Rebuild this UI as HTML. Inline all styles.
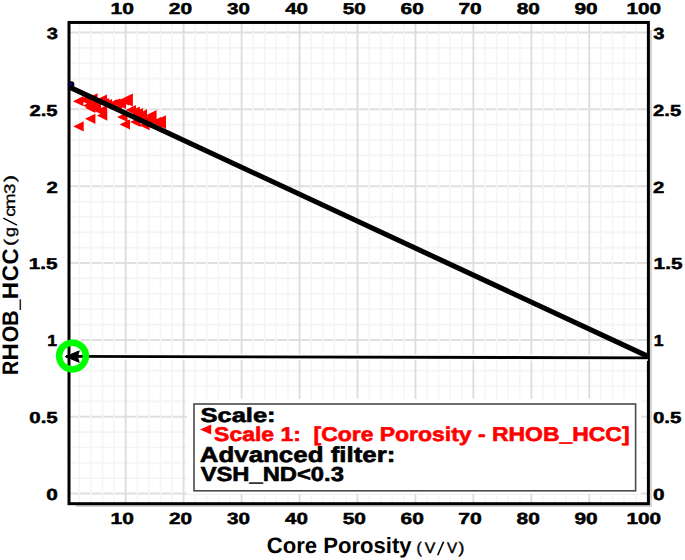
<!DOCTYPE html>
<html><head><meta charset="utf-8"><style>
html,body{margin:0;padding:0;background:#fff;}
svg{display:block;font-family:"Liberation Sans",sans-serif;text-rendering:geometricPrecision;}
</style></head><body>
<svg width="685" height="560" viewBox="0 0 685 560">
<rect width="685" height="560" fill="#fff"/>
<rect x="650" y="30" width="2" height="477" fill="#d4d4d4"/>
<rect x="76" y="505" width="576" height="2" fill="#d4d4d4"/>
<line x1="68" y1="493.60" x2="650" y2="493.60" stroke="#e0e0e0" stroke-width="2"/>
<line x1="68" y1="478.23" x2="650" y2="478.23" stroke="#f4f4f4" stroke-width="1.7"/>
<line x1="68" y1="462.86" x2="650" y2="462.86" stroke="#f4f4f4" stroke-width="1.7"/>
<line x1="68" y1="447.49" x2="650" y2="447.49" stroke="#f4f4f4" stroke-width="1.7"/>
<line x1="68" y1="432.12" x2="650" y2="432.12" stroke="#f4f4f4" stroke-width="1.7"/>
<line x1="68" y1="416.75" x2="650" y2="416.75" stroke="#e0e0e0" stroke-width="2"/>
<line x1="68" y1="401.38" x2="650" y2="401.38" stroke="#f4f4f4" stroke-width="1.7"/>
<line x1="68" y1="386.01" x2="650" y2="386.01" stroke="#f4f4f4" stroke-width="1.7"/>
<line x1="68" y1="370.64" x2="650" y2="370.64" stroke="#f4f4f4" stroke-width="1.7"/>
<line x1="68" y1="355.27" x2="650" y2="355.27" stroke="#f4f4f4" stroke-width="1.7"/>
<line x1="68" y1="339.90" x2="650" y2="339.90" stroke="#e0e0e0" stroke-width="2"/>
<line x1="68" y1="324.53" x2="650" y2="324.53" stroke="#f4f4f4" stroke-width="1.7"/>
<line x1="68" y1="309.16" x2="650" y2="309.16" stroke="#f4f4f4" stroke-width="1.7"/>
<line x1="68" y1="293.79" x2="650" y2="293.79" stroke="#f4f4f4" stroke-width="1.7"/>
<line x1="68" y1="278.42" x2="650" y2="278.42" stroke="#f4f4f4" stroke-width="1.7"/>
<line x1="68" y1="263.05" x2="650" y2="263.05" stroke="#e0e0e0" stroke-width="2"/>
<line x1="68" y1="247.68" x2="650" y2="247.68" stroke="#f4f4f4" stroke-width="1.7"/>
<line x1="68" y1="232.31" x2="650" y2="232.31" stroke="#f4f4f4" stroke-width="1.7"/>
<line x1="68" y1="216.94" x2="650" y2="216.94" stroke="#f4f4f4" stroke-width="1.7"/>
<line x1="68" y1="201.57" x2="650" y2="201.57" stroke="#f4f4f4" stroke-width="1.7"/>
<line x1="68" y1="186.20" x2="650" y2="186.20" stroke="#e0e0e0" stroke-width="2"/>
<line x1="68" y1="170.83" x2="650" y2="170.83" stroke="#f4f4f4" stroke-width="1.7"/>
<line x1="68" y1="155.46" x2="650" y2="155.46" stroke="#f4f4f4" stroke-width="1.7"/>
<line x1="68" y1="140.09" x2="650" y2="140.09" stroke="#f4f4f4" stroke-width="1.7"/>
<line x1="68" y1="124.72" x2="650" y2="124.72" stroke="#f4f4f4" stroke-width="1.7"/>
<line x1="68" y1="109.35" x2="650" y2="109.35" stroke="#e0e0e0" stroke-width="2"/>
<line x1="68" y1="93.98" x2="650" y2="93.98" stroke="#f4f4f4" stroke-width="1.7"/>
<line x1="68" y1="78.61" x2="650" y2="78.61" stroke="#f4f4f4" stroke-width="1.7"/>
<line x1="68" y1="63.24" x2="650" y2="63.24" stroke="#f4f4f4" stroke-width="1.7"/>
<line x1="68" y1="47.87" x2="650" y2="47.87" stroke="#f4f4f4" stroke-width="1.7"/>
<line x1="68" y1="32.50" x2="650" y2="32.50" stroke="#e0e0e0" stroke-width="2"/>
<line x1="79.34" y1="22" x2="79.34" y2="505" stroke="#f5f5f5" stroke-width="1.6"/>
<line x1="90.93" y1="22" x2="90.93" y2="505" stroke="#f5f5f5" stroke-width="1.6"/>
<line x1="102.52" y1="22" x2="102.52" y2="505" stroke="#f5f5f5" stroke-width="1.6"/>
<line x1="114.11" y1="22" x2="114.11" y2="505" stroke="#f5f5f5" stroke-width="1.6"/>
<line x1="125.70" y1="22" x2="125.70" y2="505" stroke="#dcdcdc" stroke-width="1.8"/>
<line x1="137.29" y1="22" x2="137.29" y2="505" stroke="#f5f5f5" stroke-width="1.6"/>
<line x1="148.88" y1="22" x2="148.88" y2="505" stroke="#f5f5f5" stroke-width="1.6"/>
<line x1="160.47" y1="22" x2="160.47" y2="505" stroke="#f5f5f5" stroke-width="1.6"/>
<line x1="172.06" y1="22" x2="172.06" y2="505" stroke="#f5f5f5" stroke-width="1.6"/>
<line x1="183.65" y1="22" x2="183.65" y2="505" stroke="#dcdcdc" stroke-width="1.8"/>
<line x1="195.24" y1="22" x2="195.24" y2="505" stroke="#f5f5f5" stroke-width="1.6"/>
<line x1="206.83" y1="22" x2="206.83" y2="505" stroke="#f5f5f5" stroke-width="1.6"/>
<line x1="218.42" y1="22" x2="218.42" y2="505" stroke="#f5f5f5" stroke-width="1.6"/>
<line x1="230.01" y1="22" x2="230.01" y2="505" stroke="#f5f5f5" stroke-width="1.6"/>
<line x1="241.60" y1="22" x2="241.60" y2="505" stroke="#dcdcdc" stroke-width="1.8"/>
<line x1="253.19" y1="22" x2="253.19" y2="505" stroke="#f5f5f5" stroke-width="1.6"/>
<line x1="264.78" y1="22" x2="264.78" y2="505" stroke="#f5f5f5" stroke-width="1.6"/>
<line x1="276.37" y1="22" x2="276.37" y2="505" stroke="#f5f5f5" stroke-width="1.6"/>
<line x1="287.96" y1="22" x2="287.96" y2="505" stroke="#f5f5f5" stroke-width="1.6"/>
<line x1="299.55" y1="22" x2="299.55" y2="505" stroke="#dcdcdc" stroke-width="1.8"/>
<line x1="311.14" y1="22" x2="311.14" y2="505" stroke="#f5f5f5" stroke-width="1.6"/>
<line x1="322.73" y1="22" x2="322.73" y2="505" stroke="#f5f5f5" stroke-width="1.6"/>
<line x1="334.32" y1="22" x2="334.32" y2="505" stroke="#f5f5f5" stroke-width="1.6"/>
<line x1="345.91" y1="22" x2="345.91" y2="505" stroke="#f5f5f5" stroke-width="1.6"/>
<line x1="357.50" y1="22" x2="357.50" y2="505" stroke="#dcdcdc" stroke-width="1.8"/>
<line x1="369.09" y1="22" x2="369.09" y2="505" stroke="#f5f5f5" stroke-width="1.6"/>
<line x1="380.68" y1="22" x2="380.68" y2="505" stroke="#f5f5f5" stroke-width="1.6"/>
<line x1="392.27" y1="22" x2="392.27" y2="505" stroke="#f5f5f5" stroke-width="1.6"/>
<line x1="403.86" y1="22" x2="403.86" y2="505" stroke="#f5f5f5" stroke-width="1.6"/>
<line x1="415.45" y1="22" x2="415.45" y2="505" stroke="#dcdcdc" stroke-width="1.8"/>
<line x1="427.04" y1="22" x2="427.04" y2="505" stroke="#f5f5f5" stroke-width="1.6"/>
<line x1="438.63" y1="22" x2="438.63" y2="505" stroke="#f5f5f5" stroke-width="1.6"/>
<line x1="450.22" y1="22" x2="450.22" y2="505" stroke="#f5f5f5" stroke-width="1.6"/>
<line x1="461.81" y1="22" x2="461.81" y2="505" stroke="#f5f5f5" stroke-width="1.6"/>
<line x1="473.40" y1="22" x2="473.40" y2="505" stroke="#dcdcdc" stroke-width="1.8"/>
<line x1="484.99" y1="22" x2="484.99" y2="505" stroke="#f5f5f5" stroke-width="1.6"/>
<line x1="496.58" y1="22" x2="496.58" y2="505" stroke="#f5f5f5" stroke-width="1.6"/>
<line x1="508.17" y1="22" x2="508.17" y2="505" stroke="#f5f5f5" stroke-width="1.6"/>
<line x1="519.76" y1="22" x2="519.76" y2="505" stroke="#f5f5f5" stroke-width="1.6"/>
<line x1="531.35" y1="22" x2="531.35" y2="505" stroke="#dcdcdc" stroke-width="1.8"/>
<line x1="542.94" y1="22" x2="542.94" y2="505" stroke="#f5f5f5" stroke-width="1.6"/>
<line x1="554.53" y1="22" x2="554.53" y2="505" stroke="#f5f5f5" stroke-width="1.6"/>
<line x1="566.12" y1="22" x2="566.12" y2="505" stroke="#f5f5f5" stroke-width="1.6"/>
<line x1="577.71" y1="22" x2="577.71" y2="505" stroke="#f5f5f5" stroke-width="1.6"/>
<line x1="589.30" y1="22" x2="589.30" y2="505" stroke="#dcdcdc" stroke-width="1.8"/>
<line x1="600.89" y1="22" x2="600.89" y2="505" stroke="#f5f5f5" stroke-width="1.6"/>
<line x1="612.48" y1="22" x2="612.48" y2="505" stroke="#f5f5f5" stroke-width="1.6"/>
<line x1="624.07" y1="22" x2="624.07" y2="505" stroke="#f5f5f5" stroke-width="1.6"/>
<line x1="635.66" y1="22" x2="635.66" y2="505" stroke="#f5f5f5" stroke-width="1.6"/>
<rect x="69.0" y="22.45" width="579.4" height="481.25" fill="none" stroke="#000" stroke-width="3"/>
<path d="M87.2,98.4L97.6,93.3L97.6,103.5ZM96.6,99.5L107.0,94.4L107.0,104.6ZM98.8,103.0L109.2,97.9L109.2,108.1ZM101.6,104.2L112.0,99.1L112.0,109.3ZM106.4,104.4L116.8,99.3L116.8,109.5ZM122.5,98.6L132.9,93.5L132.9,103.7ZM129.5,111.7L139.9,106.6L139.9,116.8ZM136.6,114.4L147.0,109.3L147.0,119.5ZM146.2,115.2L156.6,110.1L156.6,120.3ZM155.6,120.3L166.0,115.2L166.0,125.4ZM111.6,103.7L122.0,98.6L122.0,108.8ZM115.6,104.0L126.0,98.9L126.0,109.1ZM73.0,101.2L83.4,96.1L83.4,106.3ZM79.1,99.8L89.5,94.7L89.5,104.9ZM83.1,105.6L93.5,100.5L93.5,110.7ZM84.8,107.8L95.2,102.7L95.2,112.9ZM90.6,108.0L101.0,102.9L101.0,113.1ZM94.6,111.0L105.0,105.9L105.0,116.1ZM73.3,126.4L83.7,121.3L83.7,131.5ZM85.0,118.8L95.4,113.7L95.4,123.9ZM96.9,115.6L107.3,110.5L107.3,120.7ZM117.1,117.0L127.5,111.9L127.5,122.1ZM119.6,124.4L130.0,119.3L130.0,129.5ZM130.1,121.9L140.5,116.8L140.5,127.0ZM139.2,125.2L149.6,120.1L149.6,130.3ZM81.6,101.0L92.0,95.9L92.0,106.1ZM96.6,110.5L107.0,105.4L107.0,115.6ZM88.6,104.0L99.0,98.9L99.0,109.1ZM109.6,103.5L120.0,98.4L120.0,108.6ZM114.6,102.5L125.0,97.4L125.0,107.6ZM118.6,100.5L129.0,95.4L129.0,105.6ZM122.5,101.5L132.9,96.4L132.9,106.6ZM129.5,115.5L139.9,110.4L139.9,120.6ZM136.6,118.4L147.0,113.3L147.0,123.5ZM146.2,120.0L156.6,114.9L156.6,125.1ZM155.6,124.0L166.0,118.9L166.0,129.1ZM141.6,119.0L152.0,113.9L152.0,124.1ZM150.6,122.0L161.0,116.9L161.0,127.1ZM132.6,113.0L143.0,107.9L143.0,118.1ZM125.6,110.0L136.0,104.9L136.0,115.1Z" fill="#ff0000"/>
<line x1="70" y1="356.45" x2="648" y2="357.85" stroke="#fff" stroke-width="6"/>
<line x1="69" y1="86.9" x2="648" y2="356.4" stroke="#000" stroke-width="5.1"/>
<circle cx="71.1" cy="84.5" r="3.3" fill="#000"/><circle cx="71.1" cy="84.4" r="1.4" fill="#0000c8"/>
<line x1="66" y1="356.45" x2="648" y2="357.85" stroke="#000" stroke-width="2.8"/>
<path d="M65.3,356.6 L79.2,350.9 L77.4,356.7 L79.2,362.3 Z" fill="#000" stroke="#000" stroke-width="1" stroke-linejoin="round"/>
<circle cx="72.5" cy="356.1" r="13.4" fill="none" stroke="#00ff00" stroke-width="6.5"/>
<rect x="187" y="398.7" width="454.3" height="95.3" fill="#fff"/>
<rect x="194" y="404" width="441.6" height="86.8" fill="#fff" stroke="#4a4a4a" stroke-width="1.6"/>
<path d="M200,429.5L211.2,424.5L211.2,434.5Z" fill="#ff0000"/>
<text xml:space="preserve" font-size="15.885" font-weight="bold" fill="#000" stroke="#000" stroke-width="0.5" stroke-linejoin="round" transform="matrix(1.3256,0,0,1,110.559,14.466)">10</text>
<text xml:space="preserve" font-size="16.141" font-weight="bold" fill="#000" stroke="#000" stroke-width="0.5" stroke-linejoin="round" transform="matrix(1.2988,0,0,1,110.586,524.129)">10</text>
<text xml:space="preserve" font-size="15.820" font-weight="bold" fill="#000" stroke="#000" stroke-width="0.5" stroke-linejoin="round" transform="matrix(1.3240,0,0,1,168.839,14.449)">20</text>
<text xml:space="preserve" font-size="16.275" font-weight="bold" fill="#000" stroke="#000" stroke-width="0.5" stroke-linejoin="round" transform="matrix(1.2793,0,0,1,168.885,524.493)">20</text>
<text xml:space="preserve" font-size="15.726" font-weight="bold" fill="#000" stroke="#000" stroke-width="0.5" stroke-linejoin="round" transform="matrix(1.3058,0,0,1,227.067,14.386)">30</text>
<text xml:space="preserve" font-size="16.220" font-weight="bold" fill="#000" stroke="#000" stroke-width="0.5" stroke-linejoin="round" transform="matrix(1.2776,0,0,1,227.005,524.454)">30</text>
<text xml:space="preserve" font-size="15.870" font-weight="bold" fill="#000" stroke="#000" stroke-width="0.5" stroke-linejoin="round" transform="matrix(1.2950,0,0,1,285.162,14.466)">40</text>
<text xml:space="preserve" font-size="16.186" font-weight="bold" fill="#000" stroke="#000" stroke-width="0.5" stroke-linejoin="round" transform="matrix(1.2740,0,0,1,285.098,524.149)">40</text>
<text xml:space="preserve" font-size="15.771" font-weight="bold" fill="#000" stroke="#000" stroke-width="0.5" stroke-linejoin="round" transform="matrix(1.3176,0,0,1,342.732,14.407)">50</text>
<text xml:space="preserve" font-size="16.126" font-weight="bold" fill="#000" stroke="#000" stroke-width="0.5" stroke-linejoin="round" transform="matrix(1.2978,0,0,1,342.672,524.125)">50</text>
<text xml:space="preserve" font-size="15.850" font-weight="bold" fill="#000" stroke="#000" stroke-width="0.5" stroke-linejoin="round" transform="matrix(1.3216,0,0,1,400.581,14.441)">60</text>
<text xml:space="preserve" font-size="16.295" font-weight="bold" fill="#000" stroke="#000" stroke-width="0.5" stroke-linejoin="round" transform="matrix(1.2891,0,0,1,400.526,524.439)">60</text>
<text xml:space="preserve" font-size="15.885" font-weight="bold" fill="#000" stroke="#000" stroke-width="0.5" stroke-linejoin="round" transform="matrix(1.3217,0,0,1,458.435,14.466)">70</text>
<text xml:space="preserve" font-size="16.131" font-weight="bold" fill="#000" stroke="#000" stroke-width="0.5" stroke-linejoin="round" transform="matrix(1.3155,0,0,1,458.336,524.129)">70</text>
<text xml:space="preserve" font-size="15.731" font-weight="bold" fill="#000" stroke="#000" stroke-width="0.5" stroke-linejoin="round" transform="matrix(1.3234,0,0,1,516.647,14.397)">80</text>
<text xml:space="preserve" font-size="16.290" font-weight="bold" fill="#000" stroke="#000" stroke-width="0.5" stroke-linejoin="round" transform="matrix(1.2849,0,0,1,516.491,524.113)">80</text>
<text xml:space="preserve" font-size="15.887" font-weight="bold" fill="#000" stroke="#000" stroke-width="0.5" stroke-linejoin="round" transform="matrix(1.3104,0,0,1,574.505,13.970)">90</text>
<text xml:space="preserve" font-size="16.230" font-weight="bold" fill="#000" stroke="#000" stroke-width="0.5" stroke-linejoin="round" transform="matrix(1.2840,0,0,1,574.509,524.202)">90</text>
<text xml:space="preserve" font-size="15.865" font-weight="bold" fill="#000" stroke="#000" stroke-width="0.5" stroke-linejoin="round" transform="matrix(1.3072,0,0,1,626.539,14.463)">100</text>
<text xml:space="preserve" font-size="16.131" font-weight="bold" fill="#000" stroke="#000" stroke-width="0.5" stroke-linejoin="round" transform="matrix(1.2861,0,0,1,626.555,524.136)">100</text>
<text xml:space="preserve" font-size="15.965" font-weight="bold" fill="#000" stroke="#000" stroke-width="0.5" stroke-linejoin="round" transform="matrix(1.2569,0,0,1,46.796,38.858)">3</text>
<text xml:space="preserve" font-size="16.035" font-weight="bold" fill="#000" stroke="#000" stroke-width="0.5" stroke-linejoin="round" transform="matrix(1.2548,0,0,1,653.302,38.728)">3</text>
<text xml:space="preserve" font-size="15.906" font-weight="bold" fill="#000" stroke="#000" stroke-width="0.5" stroke-linejoin="round" transform="matrix(1.2694,0,0,1,29.507,115.834)">2.5</text>
<text xml:space="preserve" font-size="15.980" font-weight="bold" fill="#000" stroke="#000" stroke-width="0.5" stroke-linejoin="round" transform="matrix(1.2645,0,0,1,653.119,115.595)">2.5</text>
<text xml:space="preserve" font-size="16.103" font-weight="bold" fill="#000" stroke="#000" stroke-width="0.5" stroke-linejoin="round" transform="matrix(1.2596,0,0,1,46.504,192.600)">2</text>
<text xml:space="preserve" font-size="16.158" font-weight="bold" fill="#000" stroke="#000" stroke-width="0.5" stroke-linejoin="round" transform="matrix(1.2601,0,0,1,652.989,192.600)">2</text>
<text xml:space="preserve" font-size="15.790" font-weight="bold" fill="#000" stroke="#000" stroke-width="0.5" stroke-linejoin="round" transform="matrix(1.3087,0,0,1,28.845,269.486)">1.5</text>
<text xml:space="preserve" font-size="16.143" font-weight="bold" fill="#000" stroke="#000" stroke-width="0.5" stroke-linejoin="round" transform="matrix(1.2914,0,0,1,653.599,269.444)">1.5</text>
<text xml:space="preserve" font-size="16.111" font-weight="bold" fill="#000" stroke="#000" stroke-width="0.5" stroke-linejoin="round" transform="matrix(1.0896,0,0,1,47.218,346.274)">1</text>
<text xml:space="preserve" font-size="16.131" font-weight="bold" fill="#000" stroke="#000" stroke-width="0.5" stroke-linejoin="round" transform="matrix(1.0910,0,0,1,653.801,346.274)">1</text>
<text xml:space="preserve" font-size="15.950" font-weight="bold" fill="#000" stroke="#000" stroke-width="0.5" stroke-linejoin="round" transform="matrix(1.2866,0,0,1,29.259,422.985)">0.5</text>
<text xml:space="preserve" font-size="15.925" font-weight="bold" fill="#000" stroke="#000" stroke-width="0.5" stroke-linejoin="round" transform="matrix(1.2850,0,0,1,652.879,422.968)">0.5</text>
<text xml:space="preserve" font-size="16.020" font-weight="bold" fill="#000" stroke="#000" stroke-width="0.5" stroke-linejoin="round" transform="matrix(1.2974,0,0,1,46.344,499.680)">0</text>
<text xml:space="preserve" font-size="16.119" font-weight="bold" fill="#000" stroke="#000" stroke-width="0.5" stroke-linejoin="round" transform="matrix(1.2848,0,0,1,652.885,499.721)">0</text>
<text xml:space="preserve" font-size="22.185" font-weight="bold" fill="#000" transform="matrix(0.9957,0,0,1,266.789,552.621)">Core Porosity</text>
<text xml:space="preserve" font-size="20.094" font-weight="bold" fill="#000" stroke="#000" stroke-width="0.6" stroke-linejoin="round" transform="matrix(1.2710,0,0,1,200.420,421.951)">Scale:</text>
<text xml:space="preserve" font-size="19.871" font-weight="bold" fill="#ff0000" stroke="#ff0000" stroke-width="0.6" stroke-linejoin="round" transform="matrix(1.1549,0,0,1,214.097,441.254)">Scale 1:  [Core Porosity - RHOB_HCC]</text>
<text xml:space="preserve" font-size="21.599" font-weight="bold" fill="#000" stroke="#000" stroke-width="0.6" stroke-linejoin="round" transform="matrix(1.1995,0,0,1,199.740,462.412)">Advanced filter:</text>
<text xml:space="preserve" font-size="20.245" font-weight="bold" fill="#000" stroke="#000" stroke-width="0.6" stroke-linejoin="round" transform="matrix(1.1738,0,0,1,200.641,481.132)">VSH_ND&lt;0.3</text>
<text font-size="15.4" transform="matrix(1.0240,0,0,1,416.454,552.9)" stroke="#000" stroke-width="0.4">(</text>
<text font-size="15.4" transform="matrix(1.0290,0,0,1,424.842,552.9)" stroke="#000" stroke-width="0.4">V</text>
<text font-size="15.4" transform="matrix(0.9890,0,0,1,446.948,552.9)" stroke="#000" stroke-width="0.4">V</text>
<text font-size="15.4" transform="matrix(1.1489,0,0,1,458.423,552.9)" stroke="#000" stroke-width="0.4">)</text>
<line x1="437.7" y1="555.2" x2="443.6" y2="541.6" stroke="#000" stroke-width="1.55"/>
<text font-size="22.46" font-weight="bold" transform="matrix(0,-0.8763,1,0,17.6,374.978)">R</text>
<text font-size="22.46" font-weight="bold" transform="matrix(0,-1.0670,1,0,17.6,360.578)">H</text>
<text font-size="22.46" font-weight="bold" transform="matrix(0,-0.9668,1,0,17.6,342.469)">O</text>
<text font-size="22.46" font-weight="bold" transform="matrix(0,-0.9635,1,0,17.6,326.115)">B</text>
<text font-size="22.46" font-weight="bold" transform="matrix(0,-1.0747,1,0,17.6,299.290)">H</text>
<text font-size="22.46" font-weight="bold" transform="matrix(0,-1.0001,1,0,17.6,281.198)">C</text>
<text font-size="22.46" font-weight="bold" transform="matrix(0,-0.9932,1,0,17.6,264.492)">C</text>
<rect x="19.5" y="299.4" width="1.6" height="10.6" fill="#2a2a2a"/>
<text font-size="15.5" transform="matrix(0,-1.4392,1,0,14.5,246.338)" stroke="#000" stroke-width="0.3">(</text>
<text font-size="15.5" transform="matrix(0,-1.1613,1,0,14.5,237.120)" stroke="#000" stroke-width="0.3">g</text>
<text font-size="15.5" transform="matrix(0,-1.1703,1,0,14.5,216.626)" stroke="#000" stroke-width="0.3">c</text>
<text font-size="15.5" transform="matrix(0,-1.2258,1,0,14.5,209.130)" stroke="#000" stroke-width="0.3">m</text>
<text font-size="15.5" transform="matrix(0,-1.2080,1,0,14.5,194.049)" stroke="#000" stroke-width="0.3">3</text>
<text font-size="15.5" transform="matrix(0,-1.4392,1,0,14.5,182.223)" stroke="#000" stroke-width="0.3">)</text>
<line x1="3.3" y1="218.1" x2="17.0" y2="225.2" stroke="#000" stroke-width="1.4"/>
</svg>
</body></html>
